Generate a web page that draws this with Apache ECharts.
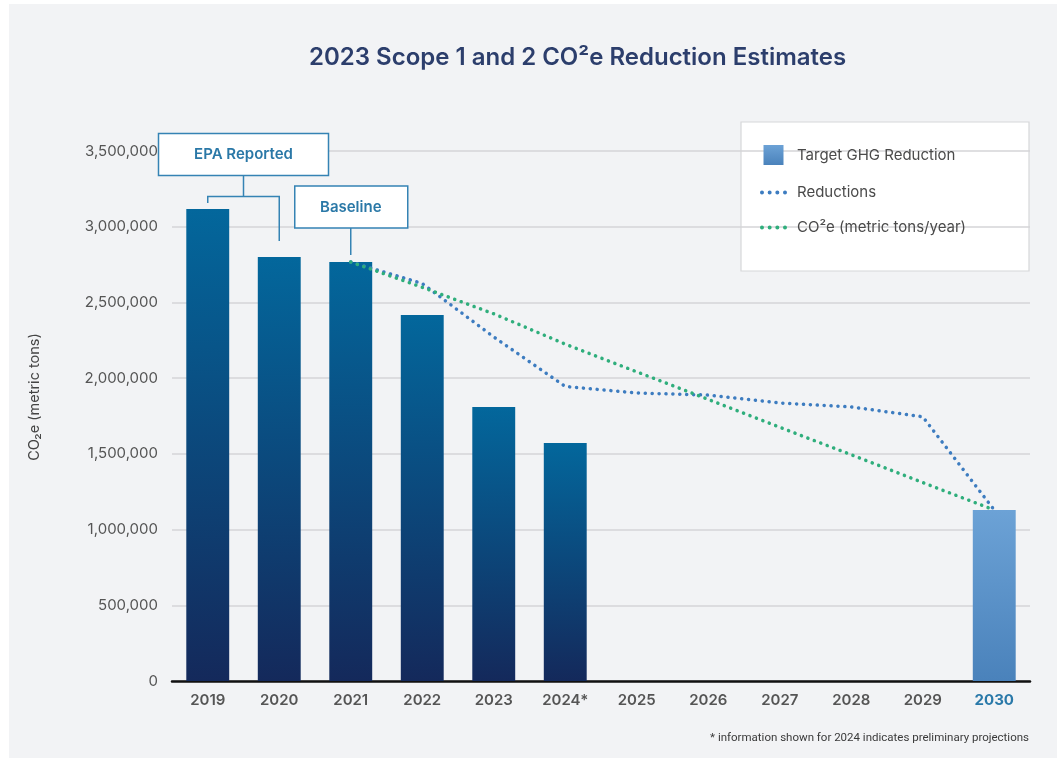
<!DOCTYPE html>
<html>
<head>
<meta charset="utf-8">
<title>2023 Scope 1 and 2 CO²e Reduction Estimates</title>
<script src="https://cdn.jsdelivr.net/npm/echarts@6/dist/echarts.min.js"></script>
<style>
  html, body { margin: 0; padding: 0; background: #ffffff; }
  #panel { position: absolute; left: 9px; top: 4px; right: 0; bottom: 0; background: #f2f3f5; }
  #chart { position: absolute; left: 0; top: 0; width: 1057px; height: 758px; }
</style>
</head>
<body>
<div id="panel"></div>
<div id="chart"></div>
<script>
// Categories (years) along the x axis
const years = ['2019', '2020', '2021', '2022', '2023', '2024*', '2025', '2026', '2027', '2028', '2029', '2030'];

// Reported / projected emissions, metric tons CO2e
const emissions = [3117000, 2800000, 2767000, 2417000, 1809000, 1572000, null, null, null, null, null, null];

// 2030 target
const target = [null, null, null, null, null, null, null, null, null, null, null, 1129000];

// Planned reductions path
const reductions = [null, null, 2767000, 2625000, 2272000, 1945000, 1902000, 1888000, 1836000, 1810000, 1745000, 1129000];

// Straight-line CO2e trajectory
const co2e = [null, null, 2767000, 2600000, 2425000, 2225000, 2042000, 1860000, 1676000, 1494000, 1311000, 1129000];

// y-axis range
const yMin = 0, yMax = 3500000, yStep = 500000;

const FONT = 'Inter, "Noto Sans", sans-serif';

// four-dot legend marker for the dotted lines
const DOTS_ICON = 'path://M0,2a2,2 0 1,0 4,0a2,2 0 1,0 -4,0Z' +
  'M7.7,2a2,2 0 1,0 4,0a2,2 0 1,0 -4,0Z' +
  'M15.4,2a2,2 0 1,0 4,0a2,2 0 1,0 -4,0Z' +
  'M23.1,2a2,2 0 1,0 4,0a2,2 0 1,0 -4,0Z';
const SQUARE_ICON = 'path://M0,0L10,0L10,10L0,10Z';

const chart = echarts.init(document.getElementById('chart'), null, { renderer: 'canvas' });

const barGradient = new echarts.graphic.LinearGradient(0, 0, 0, 1, [
  { offset: 0, color: '#03679c' },
  { offset: 1, color: '#14295b' }
]);
const targetGradient = new echarts.graphic.LinearGradient(0, 0, 0, 1, [
  { offset: 0, color: '#6ca2d6' },
  { offset: 1, color: '#4a82bb' }
]);

const dotted = (color) => ({
  color: color,
  width: 3.5,
  type: [0.1, 6.8],
  cap: 'round'
});

chart.setOption({
  animation: false,
  backgroundColor: 'transparent',
  textStyle: { fontFamily: FONT },
  title: {
    text: '2023 Scope 1 and 2 CO²e Reduction Estimates',
    left: 304,
    top: 41,
    textStyle: { fontFamily: FONT, fontSize: 24, fontWeight: 600, color: '#2c3e6c' }
  },
  grid: { left: 172, right: 27, top: 151, bottom: 77, containLabel: false },
  legend: {
    orient: 'vertical',
    left: 760,
    top: 145,
    itemWidth: 27,
    itemHeight: 20,
    itemGap: 20,
    padding: 0,
    symbolKeepAspect: true,
    textStyle: { fontFamily: FONT, fontSize: 15, color: '#4a4a4a', padding: [0, 0, 0, 5] },
    data: [
      { name: 'Target GHG Reduction', icon: SQUARE_ICON },
      { name: 'Reductions', icon: DOTS_ICON },
      { name: 'CO²e (metric tons/year)', icon: DOTS_ICON }
    ]
  },
  xAxis: {
    type: 'category',
    data: years.map((y, i) => i === years.length - 1
      ? { value: y, textStyle: { color: '#2a79a9', fontWeight: 700 } }
      : y),
    axisLine: { lineStyle: { color: '#111111', width: 2.5 } },
    axisTick: { show: false },
    axisLabel: { fontFamily: FONT, fontSize: 15, fontWeight: 600, color: '#555555', margin: 12, interval: 0 },
    splitLine: { show: false }
  },
  yAxis: {
    type: 'value',
    min: yMin,
    max: yMax,
    interval: yStep,
    axisLine: { show: false },
    axisTick: { show: false },
    axisLabel: {
      fontFamily: FONT, fontSize: 15, color: '#555555', margin: 14,
      formatter: (v) => v.toLocaleString('en-US')
    },
    splitLine: { lineStyle: { color: '#d4d5d7', width: 1.5 } }
  },
  series: [
    {
      name: 'Emissions',
      type: 'bar',
      data: emissions,
      barWidth: '60%',
      barGap: '-100%',
      itemStyle: { color: barGradient },
      z: 2
    },
    {
      name: 'Target GHG Reduction',
      type: 'bar',
      data: target,
      barWidth: '60%',
      barGap: '-100%',
      itemStyle: { color: targetGradient },
      z: 2
    },
    {
      name: 'Reductions',
      type: 'line',
      data: reductions,
      showSymbol: false,
      symbol: 'none',
      connectNulls: true,
      lineStyle: dotted('#3d7cc0'),
      itemStyle: { color: '#3d7cc0' },
      z: 4
    },
    {
      name: 'CO²e (metric tons/year)',
      type: 'line',
      data: co2e,
      showSymbol: false,
      symbol: 'none',
      connectNulls: true,
      lineStyle: dotted('#2fae7c'),
      itemStyle: { color: '#2fae7c' },
      z: 5
    }
  ]
});

// Annotation boxes and brackets, anchored to the bars they describe
const px = (i, v) => chart.convertToPixel({ seriesIndex: 0 }, [i, v]);
const p2019 = px(0, emissions[0]);
const p2020 = px(1, emissions[1]);
const p2021 = px(2, emissions[2]);
const bracketY = px(0, 3200000)[1];
const epaMid = (p2019[0] + p2020[0]) / 2;
const boxStroke = '#3583b4';
const boxText = '#2a78a7';

chart.setOption({
  graphic: [
    // legend frame
    {
      type: 'rect', z: -1, silent: true,
      shape: { x: 741, y: 122, width: 288, height: 149 },
      style: { fill: '#ffffff', stroke: '#d6d7d9', lineWidth: 1.2 }
    },
    // EPA Reported bracket
    {
      type: 'polyline', silent: true,
      shape: { points: [[p2019[0], p2019[1] - 6], [p2019[0], bracketY], [p2020[0], bracketY], [p2020[0], p2020[1] - 16]] },
      style: { stroke: boxStroke, lineWidth: 1.5, fill: null }
    },
    {
      type: 'line', silent: true,
      shape: { x1: epaMid, y1: bracketY - 21, x2: epaMid, y2: bracketY },
      style: { stroke: boxStroke, lineWidth: 1.5 }
    },
    {
      type: 'rect', silent: true,
      shape: { x: epaMid - 85, y: bracketY - 63, width: 170, height: 42 },
      style: { fill: '#ffffff', stroke: boxStroke, lineWidth: 1.5 }
    },
    {
      type: 'text', silent: true,
      x: epaMid, y: bracketY - 42,
      style: { text: 'EPA Reported', fill: boxText, font: '600 15px ' + FONT, align: 'center', verticalAlign: 'middle' }
    },
    // Baseline marker
    {
      type: 'line', silent: true,
      shape: { x1: p2021[0], y1: p2021[1] - 34, x2: p2021[0], y2: p2021[1] - 7 },
      style: { stroke: boxStroke, lineWidth: 1.5 }
    },
    {
      type: 'rect', silent: true,
      shape: { x: p2021[0] - 56, y: p2021[1] - 76, width: 113, height: 42 },
      style: { fill: '#ffffff', stroke: boxStroke, lineWidth: 1.5 }
    },
    {
      type: 'text', silent: true,
      x: p2021[0], y: p2021[1] - 55,
      style: { text: 'Baseline', fill: boxText, font: '600 15px ' + FONT, align: 'center', verticalAlign: 'middle' }
    },
    // y-axis title
    {
      type: 'text', silent: true,
      x: 35, y: 397, rotation: Math.PI / 2,
      style: { text: 'CO₂e (metric tons)', fill: '#444444', font: '14.5px ' + FONT, align: 'center', verticalAlign: 'middle' }
    },
    // footnote
    {
      type: 'text', silent: true,
      x: 1029, y: 738,
      style: { text: '* information shown for 2024 indicates preliminary projections', fill: '#3a3a3a', font: '11.5px Roboto, sans-serif', align: 'right', verticalAlign: 'middle' }
    }
  ]
});
</script>
</body>
</html>
